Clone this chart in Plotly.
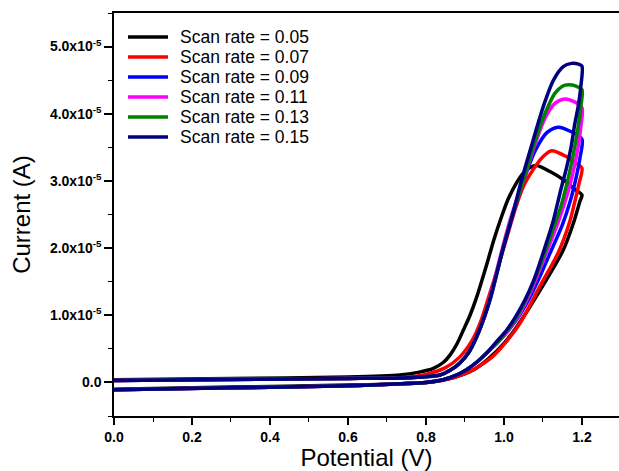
import plotly.graph_objects as go

# Potential (V) and current (units of 1e-5 A)
scan_rates = ["0.05", "0.07", "0.09", "0.11", "0.13", "0.15"]
colors = ["#000000", "#FF0000", "#0000FF", "#FF00FF", "#008000", "#000080"]
scale = 1e-5

# forward (anodic) branch + reverse branch for each scan rate
v_005 = [0.0, 0.3, 0.6, 0.733, 0.78, 0.819, 0.845, 0.862, 0.88, 0.896, 0.913, 0.93, 0.956, 0.975, 0.994, 1.01, 1.03, 1.05, 1.067, 1.084, 1.118, 1.152, 1.178, 1.2,
         1.195, 1.178, 1.152, 1.109, 1.067, 1.033, 1.0, 0.96, 0.92, 0.87, 0.8, 0.733, 0.6, 0.3, 0.0]
i_005 = [0.04, 0.06, 0.08, 0.11, 0.15, 0.21, 0.30, 0.41, 0.58, 0.78, 1.00, 1.27, 1.76, 2.14, 2.47, 2.72, 2.95, 3.12, 3.20, 3.23, 3.14, 3.02, 2.89, 2.79,
         2.70, 2.37, 1.97, 1.53, 1.13, 0.83, 0.58, 0.35, 0.18, 0.07, 0.0, -0.02, -0.04, -0.07, -0.10]

v_007 = [0.0, 0.3, 0.6, 0.733, 0.8, 0.85, 0.887, 0.92, 0.94, 0.957, 0.985, 1.007, 1.03, 1.05, 1.075, 1.1, 1.122, 1.161, 1.186, 1.2,
         1.192, 1.18, 1.169, 1.139, 1.092, 1.041, 1.005, 0.97, 0.93, 0.9, 0.85, 0.8, 0.733, 0.6, 0.3, 0.0]
i_007 = [0.03, 0.05, 0.06, 0.07, 0.12, 0.22, 0.38, 0.64, 0.90, 1.20, 1.72, 2.15, 2.60, 2.92, 3.17, 3.36, 3.45, 3.36, 3.26, 3.19,
         2.95, 2.65, 2.40, 1.93, 1.43, 0.88, 0.60, 0.38, 0.22, 0.13, 0.04, 0.0, -0.02, -0.05, -0.08, -0.11]

v_009 = [0.0, 0.3, 0.6, 0.733, 0.836, 0.862, 0.887, 0.91, 0.93, 0.95, 0.966, 0.998, 1.02, 1.05, 1.08, 1.11, 1.139, 1.17, 1.2,
         1.195, 1.185, 1.17, 1.15, 1.12, 1.09, 1.065, 1.04, 1.015, 0.985, 0.956, 0.93, 0.904, 0.875, 0.844, 0.8, 0.733, 0.6, 0.3, 0.0]
i_009 = [0.03, 0.045, 0.06, 0.065, 0.11, 0.18, 0.29, 0.45, 0.68, 0.98, 1.26, 2.00, 2.45, 3.00, 3.45, 3.72, 3.80, 3.74, 3.62,
         3.35, 3.05, 2.70, 2.35, 1.95, 1.55, 1.25, 1.00, 0.80, 0.60, 0.44, 0.30, 0.19, 0.10, 0.04, 0.0, -0.02, -0.05, -0.08, -0.11]

v_011 = [0.0, 0.3, 0.6, 0.733, 0.836, 0.862, 0.887, 0.91, 0.93, 0.95, 0.964, 0.996, 1.02, 1.05, 1.08, 1.105, 1.13, 1.156, 1.18, 1.2,
         1.197, 1.19, 1.18, 1.165, 1.14, 1.1, 1.065, 1.04, 1.012, 0.985, 0.956, 0.93, 0.904, 0.875, 0.844, 0.8, 0.733, 0.6, 0.3, 0.0]
i_011 = [0.03, 0.045, 0.06, 0.065, 0.11, 0.18, 0.29, 0.45, 0.68, 0.98, 1.26, 2.00, 2.50, 3.00, 3.55, 3.93, 4.15, 4.22, 4.18, 4.09,
         3.80, 3.50, 3.20, 2.85, 2.40, 1.80, 1.30, 1.02, 0.78, 0.60, 0.44, 0.30, 0.19, 0.10, 0.04, 0.0, -0.02, -0.05, -0.08, -0.11]

v_013 = [0.0, 0.3, 0.6, 0.733, 0.836, 0.862, 0.887, 0.91, 0.93, 0.95, 0.966, 0.998, 1.022, 1.05, 1.08, 1.105, 1.13, 1.15, 1.165, 1.185, 1.2,
         1.197, 1.19, 1.178, 1.165, 1.145, 1.13, 1.1, 1.06, 1.035, 1.01, 0.983, 0.956, 0.93, 0.904, 0.875, 0.844, 0.8, 0.733, 0.6, 0.3, 0.0]
i_013 = [0.03, 0.045, 0.06, 0.065, 0.11, 0.18, 0.29, 0.45, 0.68, 0.98, 1.28, 2.00, 2.50, 3.01, 3.60, 4.00, 4.30, 4.41, 4.43, 4.41, 4.36,
         4.10, 3.80, 3.40, 3.05, 2.60, 2.35, 1.85, 1.28, 1.00, 0.78, 0.60, 0.44, 0.30, 0.19, 0.10, 0.04, 0.0, -0.02, -0.05, -0.08, -0.11]

v_015 = [0.0, 0.3, 0.6, 0.733, 0.836, 0.862, 0.887, 0.91, 0.93, 0.95, 0.966, 0.998, 1.02, 1.045, 1.075, 1.101, 1.127, 1.152, 1.173, 1.191, 1.2,
         1.197, 1.19, 1.182, 1.172, 1.161, 1.145, 1.127, 1.11, 1.092, 1.075, 1.054, 1.03, 1.007, 0.98, 0.956, 0.93, 0.904, 0.875, 0.844, 0.8, 0.733, 0.6, 0.3, 0.0]
i_015 = [0.03, 0.045, 0.06, 0.065, 0.11, 0.18, 0.29, 0.45, 0.68, 0.98, 1.28, 2.00, 2.45, 3.01, 3.61, 4.11, 4.50, 4.70, 4.75, 4.74, 4.71,
         4.40, 4.10, 3.86, 3.50, 3.21, 2.85, 2.42, 2.10, 1.78, 1.50, 1.23, 0.98, 0.78, 0.60, 0.44, 0.30, 0.19, 0.10, 0.04, 0.0, -0.02, -0.05, -0.08, -0.11]

potentials = [v_005, v_007, v_009, v_011, v_013, v_015]
currents = [i_005, i_007, i_009, i_011, i_013, i_015]

y_tick_vals = [0, 1, 2, 3, 4, 5]
y_tick_text = ["0.0", "1.0x10<sup>-5</sup>", "2.0x10<sup>-5</sup>", "3.0x10<sup>-5</sup>",
               "4.0x10<sup>-5</sup>", "5.0x10<sup>-5</sup>"]
x_tick_vals = [0.0, 0.2, 0.4, 0.6, 0.8, 1.0, 1.2]
x_tick_text = ["0.0", "0.2", "0.4", "0.6", "0.8", "1.0", "1.2"]

font_family = "Arial, Liberation Sans, sans-serif"

fig = go.Figure()
for rate, col, v, cur in zip(scan_rates, colors, potentials, currents):
    fig.add_trace(go.Scatter(
        x=v, y=[c * scale for c in cur], mode="lines",
        name=f"Scan rate = {rate}", showlegend=False,
        line=dict(color=col, width=3.5, shape="spline", smoothing=0.8),
    ))

# legend drawn as line samples + labels (compact 20 px rows like the reference)
plot_left, plot_w, plot_bottom, plot_h = 114, 505, 416, 403
row0, row_gap = 37, 20
for k, (rate, col) in enumerate(zip(scan_rates, colors)):
    py = row0 + k * row_gap
    yp = (plot_bottom - py) / plot_h
    fig.add_shape(type="line", xref="paper", yref="paper",
                  x0=(128 - plot_left) / plot_w, x1=(168 - plot_left) / plot_w,
                  y0=yp, y1=yp, line=dict(color=col, width=3.5))
    fig.add_annotation(xref="paper", yref="paper", x=(178 - plot_left) / plot_w, y=yp,
                       xanchor="left", yanchor="middle", showarrow=False,
                       text=f"Scan rate = {rate}",
                       font=dict(size=17.5, family=font_family, color="black"))

fig.update_layout(
    width=619, height=471,
    margin=dict(l=114, r=0, t=13, b=55),
    paper_bgcolor="white", plot_bgcolor="white",
    font=dict(family=font_family, color="black"),
    showlegend=False,
)
fig.update_xaxes(
    range=[0, 1.295], showgrid=False, zeroline=False,
    showline=True, linecolor="black", linewidth=1.5, mirror=True,
    ticks="outside", ticklen=7, tickwidth=1.5, tickcolor="black",
    tickvals=x_tick_vals, ticktext=x_tick_text,
    tickfont=dict(size=14, family=font_family, color="black", weight="bold"),
    minor=dict(ticks="outside", ticklen=4, tickwidth=1.2, tickcolor="black", dtick=0.1, tick0=0),
    title=dict(text="Potential (V)", font=dict(size=24, family=font_family, color="black"), standoff=9),
)
fig.update_yaxes(
    range=[-0.5e-5, 5.5e-5], showgrid=False, zeroline=False,
    showline=True, linecolor="black", linewidth=1.5, mirror=False,
    ticks="outside", ticklen=8, tickwidth=1.5, tickcolor="black",
    tickvals=[t * scale for t in y_tick_vals], ticktext=y_tick_text,
    tickfont=dict(size=14, family=font_family, color="black", weight="bold"),
    minor=dict(ticks="outside", ticklen=4, tickwidth=1.2, tickcolor="black", dtick=0.5e-5, tick0=0),
    title=dict(text="Current (A)", font=dict(size=24, family=font_family, color="black"), standoff=13),
)

fig.write_html("out.html")
